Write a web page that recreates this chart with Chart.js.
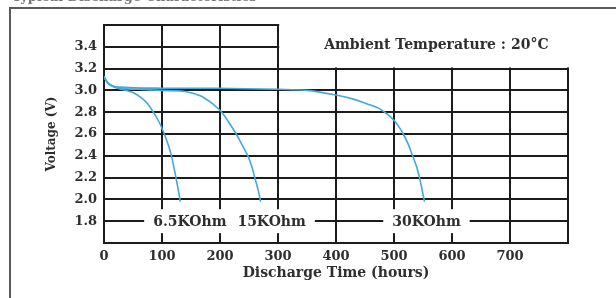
<!DOCTYPE html>
<html>
<head>
<meta charset="utf-8">
<script src="https://cdn.jsdelivr.net/npm/chart.js@4.4.1/dist/chart.umd.min.js"></script>
<style>
  html, body { margin: 0; padding: 0; background: #fff; }
  #wrap { width: 616px; height: 298px; position: relative; }
</style>
</head>
<body>
<div id="wrap"><canvas id="c" width="616" height="298"></canvas></div>
<script>
// ---- data ----
const hours65 = [0, 5, 15, 30, 50, 65, 75, 85, 95, 104, 112, 118, 124, 129, 131.5];
const volts65 = [3.13, 3.08, 3.04, 3.01, 2.98, 2.93, 2.88, 2.80, 2.71, 2.60, 2.48, 2.36, 2.20, 2.06, 1.98];

const hours15 = [0, 10, 25, 60, 100, 140, 166, 189, 203, 216, 228, 238, 248, 255, 260, 266, 270];
const volts15 = [3.12, 3.05, 3.02, 3.01, 3.00, 2.99, 2.95, 2.87, 2.80, 2.70, 2.60, 2.50, 2.40, 2.30, 2.20, 2.08, 1.98];

const hours30 = [0, 10, 25, 100, 200, 300, 350, 402, 430, 454, 470, 480, 490, 500, 508, 516, 525, 532, 539, 544, 548, 551, 552.5];
const volts30 = [3.12, 3.05, 3.03, 3.02, 3.02, 3.01, 3.00, 2.955, 2.92, 2.875, 2.845, 2.815, 2.775, 2.725, 2.67, 2.60, 2.50, 2.40, 2.30, 2.20, 2.10, 2.02, 1.98];

const seriesNames = ['6.5KOhm', '15KOhm', '30KOhm'];
const seriesLabelHours = [148, 289, 556];
const seriesLabelVolt = 1.8;

const xTickLabels = ['0', '100', '200', '300', '400', '500', '600', '700'];
const yTickLabels = ['1.8', '2.0', '2.2', '2.4', '2.6', '2.8', '3.0', '3.2', '3.4'];

const chartTitle = 'Typical Discharge Characteristics';
const noteText = 'Ambient Temperature : 20°C';
const xTitle = 'Discharge Time (hours)';
const yTitle = 'Voltage (V)';

// ---- build ----
const toPts = (xs, ys) => xs.map((x, i) => ({ x: x, y: ys[i] }));
const curveColor = '#45a8da';
const gridColor = '#1c1c1c';
const textColor = '#2e2e2e';
const serif = "'DejaVu Serif', 'Liberation Serif', serif";

const mkDs = (label, xs, ys) => ({
  label: label,
  data: toPts(xs, ys),
  borderColor: curveColor,
  borderWidth: 1.6,
  pointRadius: 0,
  fill: false,
  tension: 0.35
});

const decor = {
  id: 'decor',
  beforeDraw(chart) {
    const ctx = chart.ctx;
    ctx.save();
    ctx.fillStyle = '#fff';
    ctx.fillRect(0, 0, chart.width, chart.height);
    // outer frame
    ctx.strokeStyle = '#5a5a5a';
    ctx.lineWidth = 2;
    ctx.beginPath();
    ctx.moveTo(10, 298);
    ctx.lineTo(10, 8);
    ctx.lineTo(616, 8);
    ctx.stroke();
    // clipped heading (only its lower edge is visible)
    ctx.fillStyle = '#777';
    ctx.font = "bold 13px " + serif;
    ctx.textAlign = 'left';
    ctx.textBaseline = 'alphabetic';
    ctx.fillText(chartTitle, 12, 0.5);
    ctx.restore();
  },
  afterDatasetsDraw(chart) {
    const ctx = chart.ctx;
    const xs = chart.scales.x, ys = chart.scales.y;
    const area = chart.chartArea;
    ctx.save();
    // clear the upper-right part of the grid (above 3.2, right of 300 h)
    const x300 = xs.getPixelForValue(300);
    const y32 = ys.getPixelForValue(3.2);
    ctx.fillStyle = '#fff';
    ctx.fillRect(x300 + 1.2, area.top - 4, area.right - x300 + 6, y32 - area.top + 4 - 1.2);
    // ambient note
    ctx.fillStyle = textColor;
    ctx.font = "bold 14px " + serif;
    ctx.textAlign = 'center';
    ctx.textBaseline = 'middle';
    ctx.fillText(noteText, xs.getPixelForValue(573), ys.getPixelForValue(3.4) - 1);
    // series labels on the 1.8 line
    ctx.font = "bold 14px " + serif;
    const yl = ys.getPixelForValue(seriesLabelVolt);
    seriesNames.forEach((name, i) => {
      const cx = xs.getPixelForValue(seriesLabelHours[i]);
      const w = ctx.measureText(name).width;
      ctx.fillStyle = '#fff';
      ctx.fillRect(cx - w / 2 - 9, yl - 12, w + 18, 24);
      ctx.fillStyle = textColor;
      ctx.fillText(name, cx, yl + 1);
    });
    ctx.restore();
  }
};

new Chart(document.getElementById('c'), {
  type: 'line',
  data: {
    datasets: [
      mkDs(seriesNames[0], hours65, volts65),
      mkDs(seriesNames[1], hours15, volts15),
      mkDs(seriesNames[2], hours30, volts30)
    ]
  },
  options: {
    responsive: false,
    animation: false,
    events: [],
    layout: { padding: { left: 45, top: 25, right: 48, bottom: 0 } },
    plugins: { legend: { display: false }, tooltip: { enabled: false } },
    scales: {
      x: {
        type: 'linear',
        min: 0, max: 800,
        afterFit(s) { s.height = 55; },
        ticks: {
          stepSize: 100,
          padding: 6,
          color: textColor,
          font: { family: serif, size: 13, weight: 'bold' },
          maxRotation: 0,
          callback(v) {
            const i = Math.round(v / 100);
            return i < xTickLabels.length ? xTickLabels[i] : '';
          }
        },
        grid: { color: gridColor, lineWidth: 2, drawTicks: false },
        border: { color: gridColor, width: 2 },
        title: {
          display: true, text: xTitle, color: textColor,
          font: { family: serif, size: 14, weight: 'bold' },
          padding: { top: 0, bottom: 16 }
        }
      },
      y: {
        type: 'linear',
        min: 1.6, max: 3.6,
        afterFit(s) { s.width = 59; },
        ticks: {
          stepSize: 0.2,
          padding: 7,
          color: textColor,
          font: { family: serif, size: 13, weight: 'bold' },
          callback(v) {
            const i = Math.round((v - 1.8) / 0.2);
            return (i >= 0 && i < yTickLabels.length) ? yTickLabels[i] : '';
          }
        },
        grid: { color: gridColor, lineWidth: 2, drawTicks: false },
        border: { color: gridColor, width: 2 },
        title: {
          display: true, text: yTitle, color: textColor,
          font: { family: serif, size: 12, weight: 'bold' },
          padding: { top: 0, bottom: 0 }
        }
      }
    }
  },
  plugins: [decor]
});
</script>
</body>
</html>
